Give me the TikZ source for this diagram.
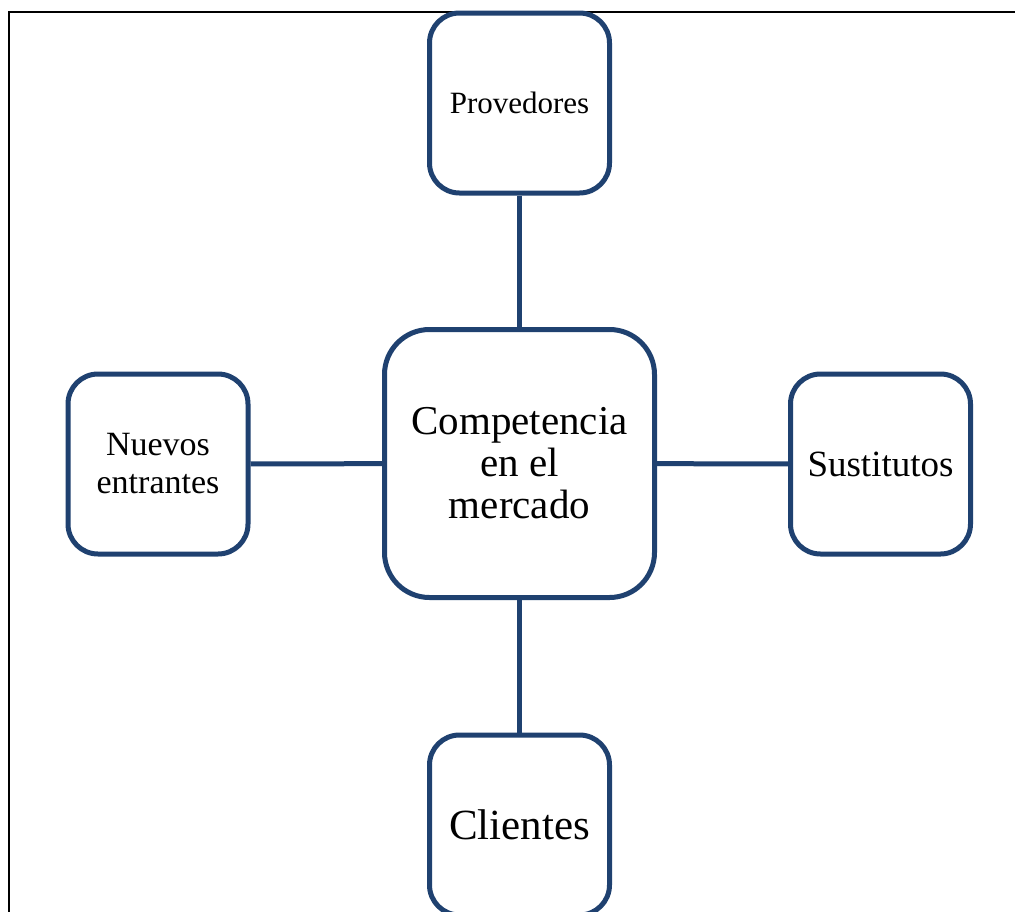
\documentclass[tikz,border=0pt]{standalone}
\usepackage{fontspec}
\setmainfont{Liberation Serif}
\definecolor{boxblue}{HTML}{1F4170}
\begin{document}
\begin{tikzpicture}[x=1pt,y=-1pt,
  pbox/.style={draw=boxblue,line width=5pt,fill=white,rounded corners=30pt,
    minimum width=180pt,minimum height=180pt,align=center,inner sep=0pt,text=black},
  cbox/.style={pbox,rounded corners=45pt,minimum width=270pt,minimum height=268pt},
  link/.style={draw=boxblue,line width=5pt}]
\useasboundingbox (0,0) rectangle (1015,911);
\clip (0,0) rectangle (1015,911);
\fill[white] (0,0) rectangle (1015,911);
\draw[line width=2pt,black] (9,960) -- (9,12) -- (1030,12);
\node[cbox,font=\fontsize{41}{42}\selectfont] (c) at (519.5,463.5) {Competencia\\en el\\mercado};
\node[pbox,font=\fontsize{31}{34}\selectfont] (p) at (519.5,103) {Provedores};
\node[pbox,font=\fontsize{34}{38}\selectfont] (n) at (158,464) {Nuevos\\entrantes};
\node[pbox,font=\fontsize{37}{40}\selectfont] (s) at (880.5,464) {Sustitutos};
\node[pbox,font=\fontsize{43}{48}\selectfont] (cl) at (519.5,825) {Clientes};
\draw[link] (p) -- (c);
\draw[link] (c) -- (cl);
\draw[link] (n) -- (c);
\draw[link] (c) -- (s);
\end{tikzpicture}
\end{document}
